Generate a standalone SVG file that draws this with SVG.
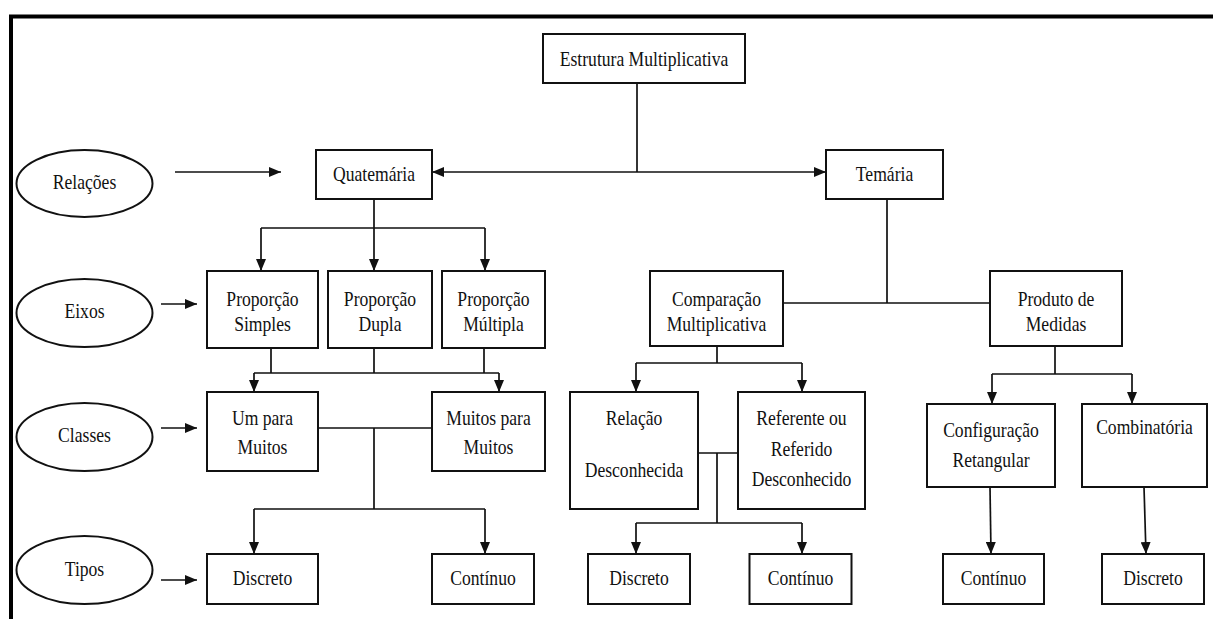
<svg xmlns="http://www.w3.org/2000/svg" width="1213" height="619" viewBox="0 0 1213 619">
<style>
.b{fill:#fff;stroke:#111;stroke-width:2}
.c{fill:none;stroke:#111;stroke-width:1.7}
.t{font-family:'Liberation Serif','Times New Roman',Times,'DejaVu Serif',serif;font-size:22px;fill:#111;text-anchor:middle}
</style>
<defs>
<marker id="ah" markerUnits="userSpaceOnUse" markerWidth="12" markerHeight="10" viewBox="0 0 12 10" refX="12" refY="5" orient="auto">
<path d="M0,0 L12,5 L0,10 z" fill="#111"/>
</marker>
</defs>
<rect width="1213" height="619" fill="#fff"/>
<path d="M11,619 V16.5 H1213" fill="none" stroke="#000" stroke-width="4"/>

<g id="connectors">
<path class="c" d="M637,83 V172"/>
<path class="c" d="M637,172 H432" marker-end="url(#ah)"/>
<path class="c" d="M637,172 H826" marker-end="url(#ah)"/>
<path class="c" d="M175,172 H281" marker-end="url(#ah)"/>
<path class="c" d="M161,304 H197" marker-end="url(#ah)"/>
<path class="c" d="M161,428 H197" marker-end="url(#ah)"/>
<path class="c" d="M161,580 H197" marker-end="url(#ah)"/>
<path class="c" d="M374,199 V228 M261,228 H485"/>
<path class="c" d="M261,228 V271" marker-end="url(#ah)"/>
<path class="c" d="M374,228 V271" marker-end="url(#ah)"/>
<path class="c" d="M485,228 V271" marker-end="url(#ah)"/>
<path class="c" d="M271,348 V373 M374,348 V373 M484,348 V373 M254,373 H499"/>
<path class="c" d="M254,373 V392" marker-end="url(#ah)"/>
<path class="c" d="M499,373 V392" marker-end="url(#ah)"/>
<path class="c" d="M318,428 H432 M374,428 V509 M254,509 H485"/>
<path class="c" d="M254,509 V554" marker-end="url(#ah)"/>
<path class="c" d="M485,509 V554" marker-end="url(#ah)"/>
<path class="c" d="M887,199 V303 M783,303 H990"/>
<path class="c" d="M717,346 V363 M636,363 H802"/>
<path class="c" d="M636,363 V392" marker-end="url(#ah)"/>
<path class="c" d="M802,363 V392" marker-end="url(#ah)"/>
<path class="c" d="M698,453 H738 M717,453 V523 M636,523 H802"/>
<path class="c" d="M636,523 V554" marker-end="url(#ah)"/>
<path class="c" d="M802,523 V554" marker-end="url(#ah)"/>
<path class="c" d="M1055,346 V374 M992,374 H1132"/>
<path class="c" d="M992,374 V404" marker-end="url(#ah)"/>
<path class="c" d="M1132,374 V404" marker-end="url(#ah)"/>
<path class="c" d="M990,487 L991,554" marker-end="url(#ah)"/>
<path class="c" d="M1144,487 L1146,554" marker-end="url(#ah)"/>
</g>

<g id="estrutura"><rect class="b" x="543" y="34" width="202" height="49"/>
<text class="t" transform="translate(644,66) scale(0.8,1)">Estrutura Multiplicativa</text></g>

<g id="quaternaria"><rect class="b" x="316" y="150" width="116" height="49"/>
<text class="t" transform="translate(374,181) scale(0.8,1)">Quatemária</text></g>

<g id="ternaria"><rect class="b" x="826" y="150" width="117" height="49"/>
<text class="t" transform="translate(884.5,181) scale(0.8,1)">Temária</text></g>

<g id="relacoes"><ellipse class="b" cx="84.5" cy="183.5" rx="68" ry="33.5"/>
<text class="t" transform="translate(84.5,189) scale(0.8,1)">Relações</text></g>

<g id="eixos"><ellipse class="b" cx="84.5" cy="313" rx="68" ry="34"/>
<text class="t" transform="translate(84.5,318) scale(0.8,1)">Eixos</text></g>

<g id="classes"><ellipse class="b" cx="84.5" cy="437" rx="68" ry="34"/>
<text class="t" transform="translate(84.5,442) scale(0.8,1)">Classes</text></g>

<g id="tipos"><ellipse class="b" cx="84.5" cy="570" rx="68" ry="34"/>
<text class="t" transform="translate(84.5,576) scale(0.8,1)">Tipos</text></g>

<g id="prop-simples"><rect class="b" x="207" y="271" width="111" height="77"/>
<text class="t" transform="translate(262.5,306) scale(0.8,1)">Proporção</text>
<text class="t" transform="translate(262.5,331) scale(0.8,1)">Simples</text></g>

<g id="prop-dupla"><rect class="b" x="328" y="271" width="104" height="77"/>
<text class="t" transform="translate(380,306) scale(0.8,1)">Proporção</text>
<text class="t" transform="translate(380,331) scale(0.8,1)">Dupla</text></g>

<g id="prop-multipla"><rect class="b" x="442" y="271" width="103" height="77"/>
<text class="t" transform="translate(493.5,306) scale(0.8,1)">Proporção</text>
<text class="t" transform="translate(493.5,331) scale(0.8,1)">Múltipla</text></g>

<g id="um-para-muitos"><rect class="b" x="207" y="392" width="111" height="79"/>
<text class="t" transform="translate(262.5,425) scale(0.8,1)">Um para</text>
<text class="t" transform="translate(262.5,454) scale(0.8,1)">Muitos</text></g>

<g id="muitos-para-muitos"><rect class="b" x="432" y="392" width="113" height="79"/>
<text class="t" transform="translate(488.5,425) scale(0.8,1)">Muitos para</text>
<text class="t" transform="translate(488.5,454) scale(0.8,1)">Muitos</text></g>

<g id="discreto-1"><rect class="b" x="207" y="554" width="111" height="50"/>
<text class="t" transform="translate(262.5,585) scale(0.8,1)">Discreto</text></g>

<g id="continuo-1"><rect class="b" x="432" y="554" width="102" height="50"/>
<text class="t" transform="translate(483,585) scale(0.8,1)">Contínuo</text></g>

<g id="comparacao"><rect class="b" x="650" y="271" width="133" height="75"/>
<text class="t" transform="translate(716.5,306) scale(0.8,1)">Comparação</text>
<text class="t" transform="translate(716.5,331) scale(0.8,1)">Multiplicativa</text></g>

<g id="produto"><rect class="b" x="990" y="271" width="132" height="75"/>
<text class="t" transform="translate(1056,306) scale(0.8,1)">Produto de</text>
<text class="t" transform="translate(1056,331) scale(0.8,1)">Medidas</text></g>

<g id="relacao-desconhecida"><rect class="b" x="570" y="392" width="128" height="117"/>
<text class="t" transform="translate(634,425) scale(0.8,1)">Relação</text>
<text class="t" transform="translate(634,477) scale(0.8,1)">Desconhecida</text></g>

<g id="referente"><rect class="b" x="738" y="392" width="127" height="117"/>
<text class="t" transform="translate(801.5,425) scale(0.8,1)">Referente ou</text>
<text class="t" transform="translate(801.5,456) scale(0.8,1)">Referido</text>
<text class="t" transform="translate(801.5,486) scale(0.8,1)">Desconhecido</text></g>

<g id="discreto-2"><rect class="b" x="588" y="554" width="102" height="50"/>
<text class="t" transform="translate(639,585) scale(0.8,1)">Discreto</text></g>

<g id="continuo-2"><rect class="b" x="749.5" y="554" width="102" height="50"/>
<text class="t" transform="translate(800.5,585) scale(0.8,1)">Contínuo</text></g>

<g id="configuracao"><rect class="b" x="927" y="404" width="128" height="83"/>
<text class="t" transform="translate(991,437) scale(0.8,1)">Configuração</text>
<text class="t" transform="translate(991,467) scale(0.8,1)">Retangular</text></g>

<g id="combinatoria"><rect class="b" x="1082" y="404" width="125" height="83"/>
<text class="t" transform="translate(1144.5,434) scale(0.8,1)">Combinatória</text></g>

<g id="continuo-3"><rect class="b" x="943" y="554" width="101" height="50"/>
<text class="t" transform="translate(993.5,585) scale(0.8,1)">Contínuo</text></g>

<g id="discreto-3"><rect class="b" x="1102" y="554" width="102" height="50"/>
<text class="t" transform="translate(1153,585) scale(0.8,1)">Discreto</text></g>
</svg>
